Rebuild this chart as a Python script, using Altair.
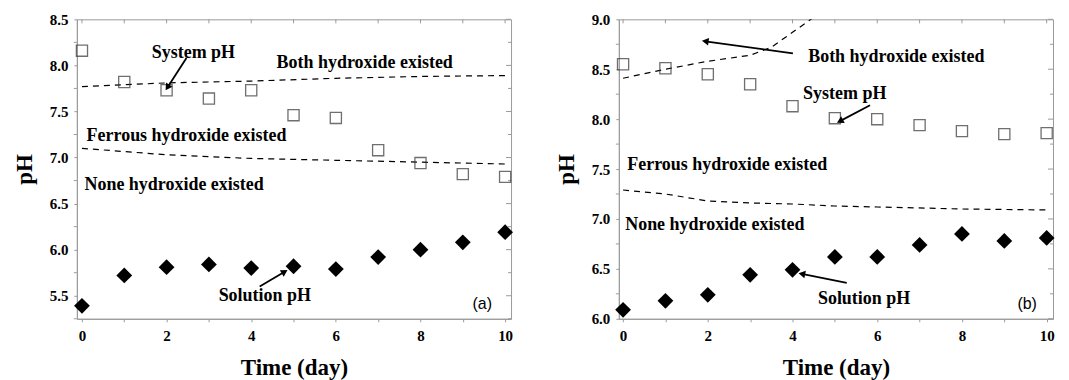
import math
import altair as alt
import pandas as pd

# ---------------- data ----------------
days = list(range(11))

# panel (a)
sys_a = [8.16, 7.82, 7.73, 7.64, 7.73, 7.46, 7.43, 7.08, 6.94, 6.82, 6.79]
sol_a = [5.39, 5.72, 5.81, 5.84, 5.80, 5.82, 5.79, 5.92, 6.00, 6.08, 6.19]
both_a_x = [0, 2, 4, 6, 8, 10]
both_a_y = [7.77, 7.81, 7.83, 7.86, 7.88, 7.89]
fer_a_x = [0, 2, 4, 6, 8, 10]
fer_a_y = [7.10, 7.03, 6.99, 6.97, 6.95, 6.93]

# panel (b)
sys_b = [8.55, 8.51, 8.45, 8.35, 8.13, 8.01, 8.00, 7.94, 7.88, 7.85, 7.86]
sol_b = [6.09, 6.18, 6.24, 6.44, 6.49, 6.62, 6.62, 6.74, 6.85, 6.78, 6.81]
both_b_x = [0, 1, 2, 3, 3.5, 4, 4.5]
both_b_y = [8.41, 8.50, 8.58, 8.64, 8.72, 8.87, 9.02]
fer_b_x = [0, 1, 2, 3, 4, 5, 6, 8, 10]
fer_b_y = [7.29, 7.25, 7.18, 7.16, 7.15, 7.13, 7.12, 7.10, 7.09]

# annotations: (text, x, y)
labels_a = [("System pH", 1.65, 8.13), ("Both hydroxide existed", 4.60, 8.03),
            ("Ferrous hydroxide existed", 0.11, 7.23), ("None hydroxide existed", 0.06, 6.70),
            ("Solution pH", 3.23, 5.50)]
labels_b = [("Both hydroxide existed", 4.37, 8.62), ("System pH", 4.25, 8.25),
            ("Ferrous hydroxide existed", 0.10, 7.54), ("None hydroxide existed", 0.05, 6.94),
            ("Solution pH", 4.60, 6.20)]
tag_a = ("(a)", 9.23, 5.41)
tag_b = ("(b)", 9.31, 6.15)

# arrows: (x_tail, y_tail, x_tip, y_tip)
arrows_a = [(2.47, 8.08, 2.02, 7.76), (4.20, 5.60, 4.79, 5.76)]
arrows_b = [(4.01, 8.66, 1.94, 8.78), (5.83, 8.14, 5.12, 7.98), (5.28, 6.36, 4.22, 6.45)]

# y ticks: major (labelled) and minor
ymaj_a = [5.5, 6.0, 6.5, 7.0, 7.5, 8.0, 8.5]
ymin_a = [5.25, 5.75, 6.25, 6.75, 7.25, 7.75, 8.25]
ymaj_b = [6.0, 6.5, 7.0, 7.5, 8.0, 8.5, 9.0]
ymin_b = [6.25, 6.75, 7.25, 7.75, 8.25, 8.75]

H = 300
SERIF = "Liberation Serif"
GRAY = "#9a9a9a"


def panel(W, xdom, ydom, sysv, solv, bx, by, fx, fy, labels, tag, arrows, ymaj, ymin):
    xs = alt.Scale(domain=xdom, nice=False, zero=False)
    ys = alt.Scale(domain=ydom, nice=False, zero=False)
    xlab_expr = "datum.value % 2 == 0 ? datum.label : ''"
    yaxis = alt.Axis(values=ymaj, format=".1f", title="pH", labelOverlap=False)
    X = alt.X("x:Q", scale=xs, axis=alt.Axis(values=days, labelExpr=xlab_expr, title="Time (day)",
                                             labelOverlap=False))
    Y = alt.Y("y:Q", scale=ys, axis=yaxis)

    pts = pd.DataFrame({"x": days, "sys": sysv, "sol": solv})
    squares = alt.Chart(pts).mark_point(shape="square", filled=False, size=125,
                                        color="#333333", strokeWidth=1.3).encode(
        x=X, y=alt.Y("sys:Q", scale=ys, axis=yaxis))
    diamonds = alt.Chart(pts).mark_point(shape="diamond", filled=True, size=250,
                                         color="black", opacity=1).encode(
        x=X, y=alt.Y("sol:Q", scale=ys, axis=yaxis))

    lines_df = pd.concat([
        pd.DataFrame({"x": bx, "y": by, "s": "both"}),
        pd.DataFrame({"x": fx, "y": fy, "s": "fer"}),
    ])
    lines = alt.Chart(lines_df).mark_line(color="black", strokeDash=[6, 5], strokeWidth=1.2,
                                          clip=True).encode(x=X, y=Y, detail="s:N")

    lab_df = pd.DataFrame(labels, columns=["t", "x", "y"])
    texts = alt.Chart(lab_df).mark_text(font=SERIF, fontWeight="bold", fontSize=18,
                                        align="left", baseline="middle", color="black").encode(
        x=X, y=Y, text="t:N")
    tag_df = pd.DataFrame([tag], columns=["t", "x", "y"])
    tagm = alt.Chart(tag_df).mark_text(font="Liberation Sans", fontSize=16, align="left",
                                       baseline="middle", color="black").encode(x=X, y=Y, text="t:N")

    # arrows
    kx = W / (xdom[1] - xdom[0])
    ky = H / (ydom[1] - ydom[0])
    arr_rows = []
    for (x0, y0, x1, y1) in arrows:
        dx = (x1 - x0) * kx
        dy = -(y1 - y0) * ky
        ang = math.degrees(math.atan2(dx, -dy)) % 360
        arr_rows.append({"x": x0, "y": y0, "x2": x1, "y2": y1, "ang": ang})
    arr_df = pd.DataFrame(arr_rows)
    shafts = alt.Chart(arr_df).mark_rule(color="black", strokeWidth=1.8).encode(
        x=X, y=Y, x2="x2:Q", y2="y2:Q")
    heads = alt.Chart(arr_df).mark_point(shape="triangle-up", filled=True, size=60,
                                         color="black", opacity=1).encode(
        x=alt.X("x2:Q", scale=xs), y=alt.Y("y2:Q", scale=ys), angle=alt.Angle("ang:Q", scale=None))

    # inward ticks on top and right edges, minor outward ticks on the left
    top_df = pd.DataFrame({"x": days})
    top_ticks = alt.Chart(top_df).mark_rule(color=GRAY, strokeWidth=1).encode(
        x=X, y=alt.value(0), y2=alt.value(4))
    r_major = alt.Chart(pd.DataFrame({"y": ymaj})).mark_rule(color=GRAY, strokeWidth=1).encode(
        y=Y, x=alt.value(W - 5), x2=alt.value(W))
    r_minor = alt.Chart(pd.DataFrame({"y": ymin})).mark_rule(color=GRAY, strokeWidth=1).encode(
        y=Y, x=alt.value(W - 3), x2=alt.value(W))
    l_minor = alt.Chart(pd.DataFrame({"y": ymin})).mark_rule(color=GRAY, strokeWidth=1).encode(
        y=Y, x=alt.value(-3), x2=alt.value(0))

    return alt.layer(lines, top_ticks, r_major, r_minor, l_minor, squares, diamonds, shafts, heads,
                     texts, tagm).properties(width=W, height=H)


left = panel(435, [-0.12, 10.14], [5.25, 8.5], sys_a, sol_a, both_a_x, both_a_y, fer_a_x, fer_a_y,
             labels_a, tag_a, arrows_a, ymaj_a, ymin_a)
right = panel(435, [-0.10, 10.15], [6.0, 9.0], sys_b, sol_b, both_b_x, both_b_y, fer_b_x, fer_b_y,
              labels_b, tag_b, arrows_b, ymaj_b, ymin_b)

chart = alt.hconcat(left, right, spacing=41).configure_view(
    stroke=GRAY, strokeWidth=1
).configure_axis(
    grid=False, domainColor=GRAY, tickColor=GRAY, tickSize=3,
    labelFont=SERIF, labelFontWeight="bold", labelFontSize=15, labelColor="black",
    titleFont=SERIF, titleFontWeight="bold", titleFontSize=23, titleColor="black",
).configure_axisY(
    labelPadding=6, minExtent=28, maxExtent=28, titlePadding=12,
).configure_axisX(
    labelPadding=7, titlePadding=13,
).properties(background="white", padding={"left": 5, "top": 3, "right": 5, "bottom": 5})

chart.save("out.html", embed_options={"renderer": "svg", "actions": False})
